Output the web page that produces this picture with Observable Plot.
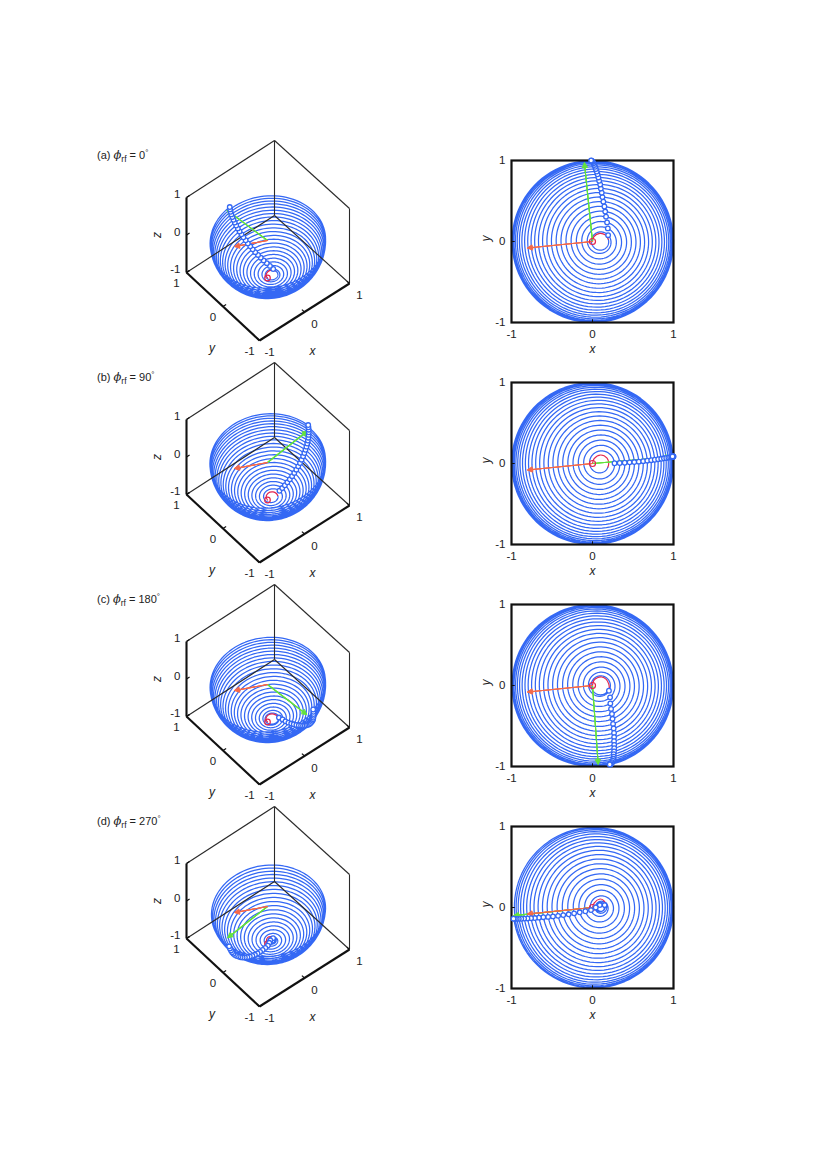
<!DOCTYPE html>
<html><head><meta charset="utf-8">
<script src="https://cdn.jsdelivr.net/npm/d3@7"></script>
<script src="https://cdn.jsdelivr.net/npm/@observablehq/plot@0.6"></script>
<style>
html,body{margin:0;padding:0;background:#fff;}
#page{position:relative;width:827px;height:1170px;overflow:hidden;font-family:"Liberation Sans",Arial,sans-serif;}
.ttl{position:absolute;left:97px;font-size:11px;color:#222;line-height:14px;white-space:nowrap;}
.ttl i{font-family:"DejaVu Serif","Liberation Serif",serif;font-size:11.5px;}
.ttl sub{font-size:8.5px;vertical-align:-3px;line-height:0;}
.ttl sup{font-size:8px;vertical-align:4px;line-height:0;}
</style></head><body><div id="page"></div>
<script>
// ---- values ----
const titleLetters = ["(a)", "(b)", "(c)", "(d)"];
const phaseDegrees = [0, 90, 180, 270];

const fieldAxis = [0.1, 0, -0.995];           // tilted axis the rings turn about
const greenHeadX = [-0.1, 0.96, 0.07, -0.97];
const greenHeadY = [0.97, 0.08, -0.97, -0.1];
const greenHeadZ = [0, 0.03, 0.03, 0];
const orangeHead = [-0.8, -0.08, 0.52];

const markAX = [.193,.189,.180,.167,.157,.147,.134,.123,.114,.103,.095,.082,.073,.062,.052,.041,.032,.022,.013,.004,-.004,-.011,-.017];
const markAY = [.078,.162,.236,.306,.370,.432,.492,.548,.603,.654,.704,.749,.791,.829,.864,.895,.922,.945,.965,.981,.991,.997,1.0];
const markAZ = [-.978,-.968,-.955,-.937,-.914,-.889,-.860,-.826,-.788,-.748,-.704,-.657,-.608,-.556,-.500,-.442,-.383,-.322,-.258,-.196,-.131,-.066,-.002];

const markBX = [.272,.336,.398,.458,.516,.572,.626,.677,.725,.769,.811,.849,.882,.911,.937,.958,.975,.987,.995,.999,.999,.994,.988];
const markBY = [.003,.006,.009,.014,.018,.023,.029,.035,.041,.046,.053,.058,.064,.068,.073,.077,.080,.082,.084,.086,.087,.087,.087];
const markBZ = [-.963,-.942,-.917,-.889,-.857,-.821,-.781,-.737,-.691,-.641,-.589,-.534,-.476,-.417,-.355,-.292,-.228,-.163,-.097,-.031,.036,.104,.169];

const markCX = [.203,.217,.220,.229,.240,.247,.254,.261,.266,.267,.266,.268,.268,.266,.262,.262,.258,.251,.242,.236,.225,.219,.213];
const markCY = [-.065,-.146,-.221,-.289,-.352,-.411,-.474,-.530,-.585,-.637,-.687,-.733,-.775,-.813,-.848,-.878,-.905,-.928,-.946,-.960,-.971,-.975,-.975];
const markCZ = [-.977,-.965,-.949,-.929,-.904,-.876,-.843,-.806,-.765,-.723,-.675,-.626,-.572,-.517,-.459,-.399,-.337,-.274,-.210,-.144,-.078,-.010,.056];

const markDX = [.15,.09,.04,-.019,-.088,-.158,-.227,-.294,-.361,-.425,-.488,-.548,-.607,-.662,-.712,-.759,-.803,-.844,-.880,-.910,-.935,-.958,-.975];
const markDY = [.03,.03,0,-.032,-.046,-.059,-.072,-.084,-.094,-.103,-.110,-.116,-.120,-.125,-.130,-.132,-.135,-.137,-.139,-.140,-.140,-.139,-.138];
const markDZ = [-.985,-.9995,-.999,-.999,-.995,-.985,-.971,-.952,-.928,-.900,-.866,-.830,-.788,-.743,-.693,-.640,-.584,-.525,-.462,-.399,-.334,-.265,-.196];

const redAX = [0,.018,.09,.16,.195], redAY = [0,.06,.10,.08,.027];
const redBX = [0,.02,.10,.18,.20,.19], redBY = [0,.06,.105,.065,0,-.045];
const redCX = [0,.015,.06,.113,.17,.20,.208], redCY = [0,.06,.095,.105,.075,.02,-.027];
const redDX = [0,.02,.093,.14,.17], redDY = [0,.055,.105,.085,.03];

const axisTicks = [-1, 0, 1];
const boxThin = [[[1,1,1],[-1,1,1]],[[1,1,1],[1,-1,1]],[[1,-1,1],[1,-1,-1]],[[1,1,1],[1,1,-1]],[[1,1,-1],[-1,1,-1]],[[1,1,-1],[1,-1,-1]]];
const boxThick = [[[-1,1,1],[-1,1,-1]],[[-1,1,-1],[-1,-1,-1]],[[-1,-1,-1],[1,-1,-1]]];

const ringColor = "#3468f4", redColor = "#e3264e", greenColor = "#63e23c", orangeColor = "#f4694a";
const fontFamily = '"Liberation Sans",Arial,sans-serif';
const textColor = "#222";

const panels = [
  {mx: markAX, my: markAY, mz: markAZ, rx: redAX, ry: redAY},
  {mx: markBX, my: markBY, mz: markBZ, rx: redBX, ry: redBY},
  {mx: markCX, my: markCY, mz: markCZ, rx: redCX, ry: redCY},
  {mx: markDX, my: markDY, mz: markDZ, rx: redDX, ry: redDY}
];

// ---- geometry helpers ----
const page = document.getElementById("page");
const norm = p => { const l = Math.hypot(...p); return p.map(d => d / l); };
const A = norm(fieldAxis);
const E1 = norm([-A[2], 0, A[0]]);
const E2 = [0, 1, 0];
const dot = (a, b) => a[0]*b[0] + a[1]*b[1] + a[2]*b[2];
const polar = p => {
  const q = norm(p);
  return {t: Math.acos(Math.max(-1, Math.min(1, dot(q, A)))), f: Math.atan2(dot(q, E2), dot(q, E1))};
};
// rings: between successive stroboscopic markers the path makes one clockwise turn about the axis
function ringPath(start, marks) {
  const pts = [], all = [start, ...marks], n = 96;
  for (let i = 0; i < all.length - 1; i++) {
    const a = polar(all[i]), b = polar(all[i + 1]);
    let d = b.f - a.f;
    while (d > Math.PI) d -= 2 * Math.PI;
    while (d < -Math.PI) d += 2 * Math.PI;
    d -= 2 * Math.PI;
    for (let k = 0; k < n; k++) {
      const s = k / n, t = a.t + s * (b.t - a.t), f = a.f + s * d;
      const ct = Math.cos(t), st = Math.sin(t), cf = Math.cos(f), sf = Math.sin(f);
      pts.push([0,1,2].map(j => ct*A[j] + st*(cf*E1[j] + sf*E2[j])));
    }
  }
  pts.push(norm(marks[marks.length - 1]));
  return pts;
}
const bowlZ = (x, y) => -Math.sqrt(Math.max(0, 1 - x*x - y*y));

function arrowLayers(rows, color, x1, y1, x2, y2) {
  return [60, 40, 20].map(headAngle => Plot.arrow(rows, {
    x1, y1, x2, y2, bend: 0, stroke: color, strokeWidth: 1.1, headLength: 7, headAngle
  }));
}

function place(el, left, top) {
  el.style.position = "absolute";
  el.style.left = left + "px";
  el.style.top = top + "px";
  page.appendChild(el);
}

// oblique view of the cube used in the left column (slight perspective toward the far corner)
const project = ([x, y, z]) => ({u: 45*x - 36.5*y + 0.5 - 0.5*(x + 1)*(y + 1), v: -28.5*x - 34*y - 37.5*z});

function panel3D(p, k) {
  const marks = p.mx.map((x, i) => [x, p.my[i], p.mz[i]]);
  const red = p.rx.map((x, i) => [x, p.ry[i], bowlZ(x, p.ry[i])]);
  const rings = ringPath(red[red.length - 1], marks).map(project);
  const seg = (rows) => rows.map(([a, b]) => { const s = project(a), e = project(b); return {x1: s.u, y1: s.v, x2: e.u, y2: e.v}; });
  const tickText = (rows, o) => Plot.text(rows, {x: "u", y: "v", text: "t", fontSize: 11.5, fill: textColor, ...o});
  const withP = (pt, t) => ({...project(pt), t});
  const zLab = axisTicks.map(t => withP([-1, 1, t], String(t)));
  const yLab = axisTicks.map(t => withP([-1, t, -1], String(t)));
  const xLab = axisTicks.map(t => withP([t, -1, -1], String(t)));
  const tickSeg = [
    ...axisTicks.map(t => [[-1, 1, t], [-0.93, 1, t]]),
    ...axisTicks.map(t => [[-1, t, -1], [-0.93, t, -1]]),
    ...axisTicks.map(t => [[t, -1, -1], [t, -0.93, -1]])
  ];
  const o = project([0, 0, 0]);
  const gHead = project([greenHeadX[k], greenHeadY[k], greenHeadZ[k]]);
  const oHead = project(orangeHead);
  const link = (rows, w, c) => Plot.link(seg(rows), {x1: "x1", y1: "y1", x2: "x2", y2: "y2", stroke: c, strokeWidth: w});
  const el = Plot.plot({
    width: 250, height: 250, margin: 0,
    x: {domain: [-125, 125], axis: null},
    y: {domain: [125, -125], axis: null},
    style: {background: "transparent", overflow: "visible", fontFamily},
    marks: [
      Plot.line(rings, {x: "u", y: "v", stroke: ringColor, strokeWidth: 1.25}),
      link(boxThin, 1.1, "#2a2a2a"),
      link(boxThick, 2.1, "#111"),
      link(tickSeg, 1.2, "#111"),
      Plot.line(red.map(project), {x: "u", y: "v", stroke: redColor, strokeWidth: 1.2, curve: "catmull-rom"}),
      ...arrowLayers([{}], greenColor, () => o.u, () => o.v, () => gHead.u, () => gHead.v),
      ...arrowLayers([{}], orangeColor, () => o.u, () => o.v, () => oHead.u, () => oHead.v),
      Plot.dot([project([0, 0, -1])], {x: "u", y: "v", r: 2.8, stroke: redColor, strokeWidth: 1.2, fill: "none"}),
      Plot.dot(marks.map(project), {x: "u", y: "v", r: 2.3, stroke: ringColor, strokeWidth: 1.3, fill: "white"}),
      tickText(zLab, {textAnchor: "end", dx: -6, dy: -3}),
      tickText(yLab, {dx: -10, dy: 11}),
      tickText(xLab, {dx: 10, dy: 12}),
      tickText([withP([0, -1, -1], "x")], {dx: 8, dy: 39, fontStyle: "italic", fontSize: 12}),
      tickText([withP([-1, 0, -1], "y")], {dx: -11, dy: 42, fontStyle: "italic", fontSize: 12}),
      tickText([withP([-1, 1, 0], "z")], {dx: -29, dy: 0, rotate: -90, fontStyle: "italic", fontSize: 12})
    ]
  });
  place(el, 266.5 - 125, 240 - 125 + 222 * k);
}

function panel2D(p, k) {
  const marks = p.mx.map((x, i) => [x, p.my[i], p.mz[i]]);
  const red = p.rx.map((x, i) => [x, p.ry[i], bowlZ(x, p.ry[i])]);
  const rings = ringPath(red[red.length - 1], marks);
  const xTicks = axisTicks.map(t => ({x1: t, y1: -1, x2: t, y2: -0.96}));
  const yTicks = axisTicks.map(t => ({x1: -1, y1: t, x2: -0.96, y2: t}));
  const el = Plot.plot({
    width: 222, height: 227,
    marginLeft: 40, marginRight: 20, marginTop: 20, marginBottom: 45,
    x: {domain: [-1, 1]},
    y: {domain: [-1, 1]},
    style: {background: "transparent", overflow: "visible", fontFamily, fontSize: "11.5px", color: textColor},
    marks: [
      Plot.line(rings, {x: d => d[0], y: d => d[1], stroke: ringColor, strokeWidth: 1.25}),
      Plot.line(p.rx.map((x, i) => [x, p.ry[i]]), {x: d => d[0], y: d => d[1], stroke: redColor, strokeWidth: 1.2, curve: "catmull-rom"}),
      ...arrowLayers([{}], greenColor, () => 0, () => 0, () => greenHeadX[k], () => greenHeadY[k]),
      ...arrowLayers([{}], orangeColor, () => 0, () => 0, () => orangeHead[0], () => orangeHead[1]),
      Plot.dot([[0, 0]], {x: d => d[0], y: d => d[1], r: 3, stroke: redColor, strokeWidth: 1.2, fill: "none"}),
      Plot.frame({stroke: "#111", strokeWidth: 2.2}),
      Plot.dot(marks, {x: d => d[0], y: d => d[1], r: 2.3, stroke: ringColor, strokeWidth: 1.3, fill: "white"}),
      Plot.link([...xTicks, ...yTicks], {x1: "x1", y1: "y1", x2: "x2", y2: "y2", stroke: "#111"}),
      Plot.axisX({ticks: axisTicks, tickFormat: String, tickSize: 0, tickPadding: 7, label: null, fontSize: 11.5, fill: textColor}),
      Plot.axisY({ticks: axisTicks, tickFormat: String, tickSize: 0, tickPadding: 6, label: null, fontSize: 11.5, fill: textColor}),
      Plot.text(["x"], {frameAnchor: "bottom", dy: 30, fontStyle: "italic", fontSize: 12, fill: textColor}),
      Plot.text(["y"], {frameAnchor: "left", dx: -25, rotate: -90, fontStyle: "italic", fontSize: 12, fill: textColor})
    ]
  });
  place(el, 471, 139.5 + 222 * k);
}

panels.forEach((p, k) => {
  panel3D(p, k);
  panel2D(p, k);
  const t = document.createElement("div");
  t.className = "ttl";
  t.style.top = (148 + 222 * k) + "px";
  t.innerHTML = `${titleLetters[k]} <i>ϕ</i><sub>rf</sub> = ${phaseDegrees[k]}<sup>°</sup>`;
  page.appendChild(t);
});
</script></body></html>
